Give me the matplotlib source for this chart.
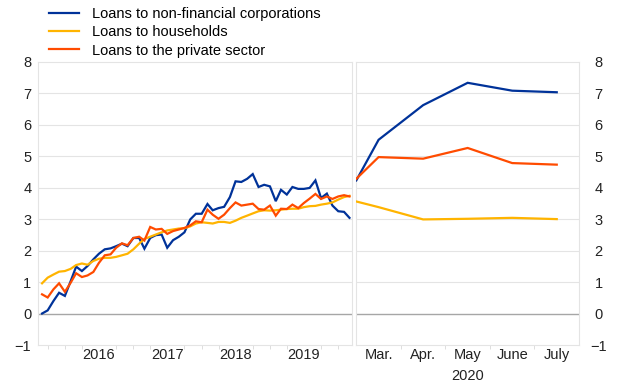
import matplotlib
matplotlib.use("Agg")
import matplotlib.pyplot as plt
import matplotlib.dates as mdates
import numpy as np
import pandas as pd

plt.rcParams["font.family"] = ["Liberation Sans", "DejaVu Sans"]

# Left panel: monthly observations, Sep 2015 - Mar 2020
dates = pd.date_range("2015-09-01", periods=55, freq="MS")

nfc = [
    0.00, 0.10, 0.40, 0.66, 0.56, 1.03, 1.49, 1.35, 1.51, 1.72,
    1.90, 2.04, 2.07, 2.14, 2.22, 2.14, 2.40, 2.40, 2.06, 2.40,
    2.49, 2.51, 2.09, 2.33, 2.44, 2.58, 2.99, 3.17, 3.17, 3.48,
    3.28, 3.35, 3.39, 3.70, 4.20, 4.18, 4.28, 4.43, 4.02, 4.09,
    4.04, 3.57, 3.93, 3.78, 4.02, 3.96, 3.96, 3.99, 4.23, 3.67,
    3.81, 3.43, 3.25, 3.23, 3.04,
]
households = [
    0.96, 1.14, 1.24, 1.33, 1.35, 1.42, 1.54, 1.59, 1.55, 1.67,
    1.74, 1.77, 1.77, 1.80, 1.85, 1.90, 2.04, 2.22, 2.37, 2.44,
    2.51, 2.58, 2.64, 2.67, 2.70, 2.71, 2.77, 2.86, 2.90, 2.88,
    2.86, 2.91, 2.91, 2.88, 2.95, 3.04, 3.11, 3.18, 3.25, 3.28,
    3.27, 3.28, 3.30, 3.32, 3.33, 3.33, 3.38, 3.41, 3.42, 3.46,
    3.49, 3.53, 3.62, 3.70, 3.74,
]
private = [
    0.61, 0.51, 0.77, 0.96, 0.69, 0.98, 1.28, 1.16, 1.21, 1.32,
    1.61, 1.85, 1.88, 2.09, 2.23, 2.17, 2.40, 2.44, 2.32, 2.75,
    2.67, 2.69, 2.53, 2.62, 2.67, 2.72, 2.80, 2.93, 2.90, 3.30,
    3.14, 3.01, 3.14, 3.35, 3.53, 3.43, 3.46, 3.49, 3.32, 3.30,
    3.43, 3.11, 3.33, 3.32, 3.46, 3.35, 3.51, 3.65, 3.80, 3.64,
    3.72, 3.64, 3.72, 3.76, 3.72,
]

# Right panel: 2020 (month number of the year)
months_2020 = [2.5, 3, 4, 5, 6, 7]
nfc_2020 = [4.23, 5.52, 6.62, 7.33, 7.08, 7.03]
households_2020 = [3.56, 3.38, 2.99, 3.01, 3.04, 3.00]
private_2020 = [4.28, 4.97, 4.92, 5.26, 4.78, 4.73]
month_labels = ["Mar.", "Apr.", "May", "June", "July"]

labels = [
    "Loans to non-financial corporations",
    "Loans to households",
    "Loans to the private sector",
]
BLUE, YELLOW, ORANGE = "#003299", "#FFB400", "#FF4B00"
GRID = "#e4e4e4"
ZERO = "#a6a6a6"

fig = plt.figure(figsize=(6.2, 3.87), dpi=100)
ax1 = fig.add_axes([0.0618, 0.1085, 0.5055, 0.732])
ax2 = fig.add_axes([0.5747, 0.1085, 0.3592, 0.732])

lw = 1.6
for ax, x, series in [
    (ax1, dates, (nfc, households, private)),
    (ax2, months_2020, (nfc_2020, households_2020, private_2020)),
]:
    for y, c, lab in zip(series, (BLUE, YELLOW, ORANGE), labels):
        ax.plot(x, y, color=c, linewidth=lw, label=lab, zorder=3,
                solid_joinstyle="miter")
    ax.set_ylim(-1, 8)
    ax.set_yticks(range(-1, 9))
    for v in range(-1, 9):
        if v == 0:
            ax.axhline(0, color=ZERO, linewidth=1.0, zorder=2)
        elif v not in (-1, 8):
            ax.axhline(v, color=GRID, linewidth=0.8, zorder=1)
    for sp in ax.spines.values():
        sp.set_color(GRID)
        sp.set_linewidth(0.8)
    ax.tick_params(axis="y", length=0, labelsize=10.5, colors="#222222")
    ax.tick_params(axis="x", which="major", length=0, labelsize=10.5,
                   colors="#222222", pad=2)
    ax.tick_params(axis="x", which="minor", length=3, color="#dddddd",
                   width=0.7, labelbottom=False)

# left panel x axis
ax1.set_xlim(dates[0] - pd.Timedelta(days=20), dates[-1] + pd.Timedelta(days=12))
year_pos = pd.to_datetime(["2016-07-01", "2017-07-01", "2018-07-01", "2019-07-01"])
ax1.set_xticks(year_pos)
ax1.set_xticklabels(["2016", "2017", "2018", "2019"])
ax1.xaxis.set_minor_locator(mdates.MonthLocator(bymonth=[1, 4, 7, 10]))

# right panel x axis
ax2.set_xlim(2.5, 7.5)
ax2.set_xticks([3, 4, 5, 6, 7])
ax2.set_xticklabels(month_labels)
ax2.set_xticks([3.5, 4.5, 5.5, 6.5], minor=True)
ax2.text(5, -0.083, "2020", transform=ax2.get_xaxis_transform(),
         ha="center", va="top", fontsize=10.5, color="#222222")
ax2.yaxis.tick_right()
ax2.tick_params(axis="y", pad=14)
for t in ax2.get_yticklabels():
    t.set_horizontalalignment("center")
ax1.tick_params(axis="y", pad=5)

handles, labs = ax1.get_legend_handles_labels()
fig.legend(handles, labs, loc="upper left", bbox_to_anchor=(0.075, 0.99),
           frameon=False, fontsize=10.5, handlelength=2.0, handletextpad=0.9,
           labelspacing=0.3, borderpad=0.2, borderaxespad=0.0)

fig.savefig("out.png", dpi=100)
